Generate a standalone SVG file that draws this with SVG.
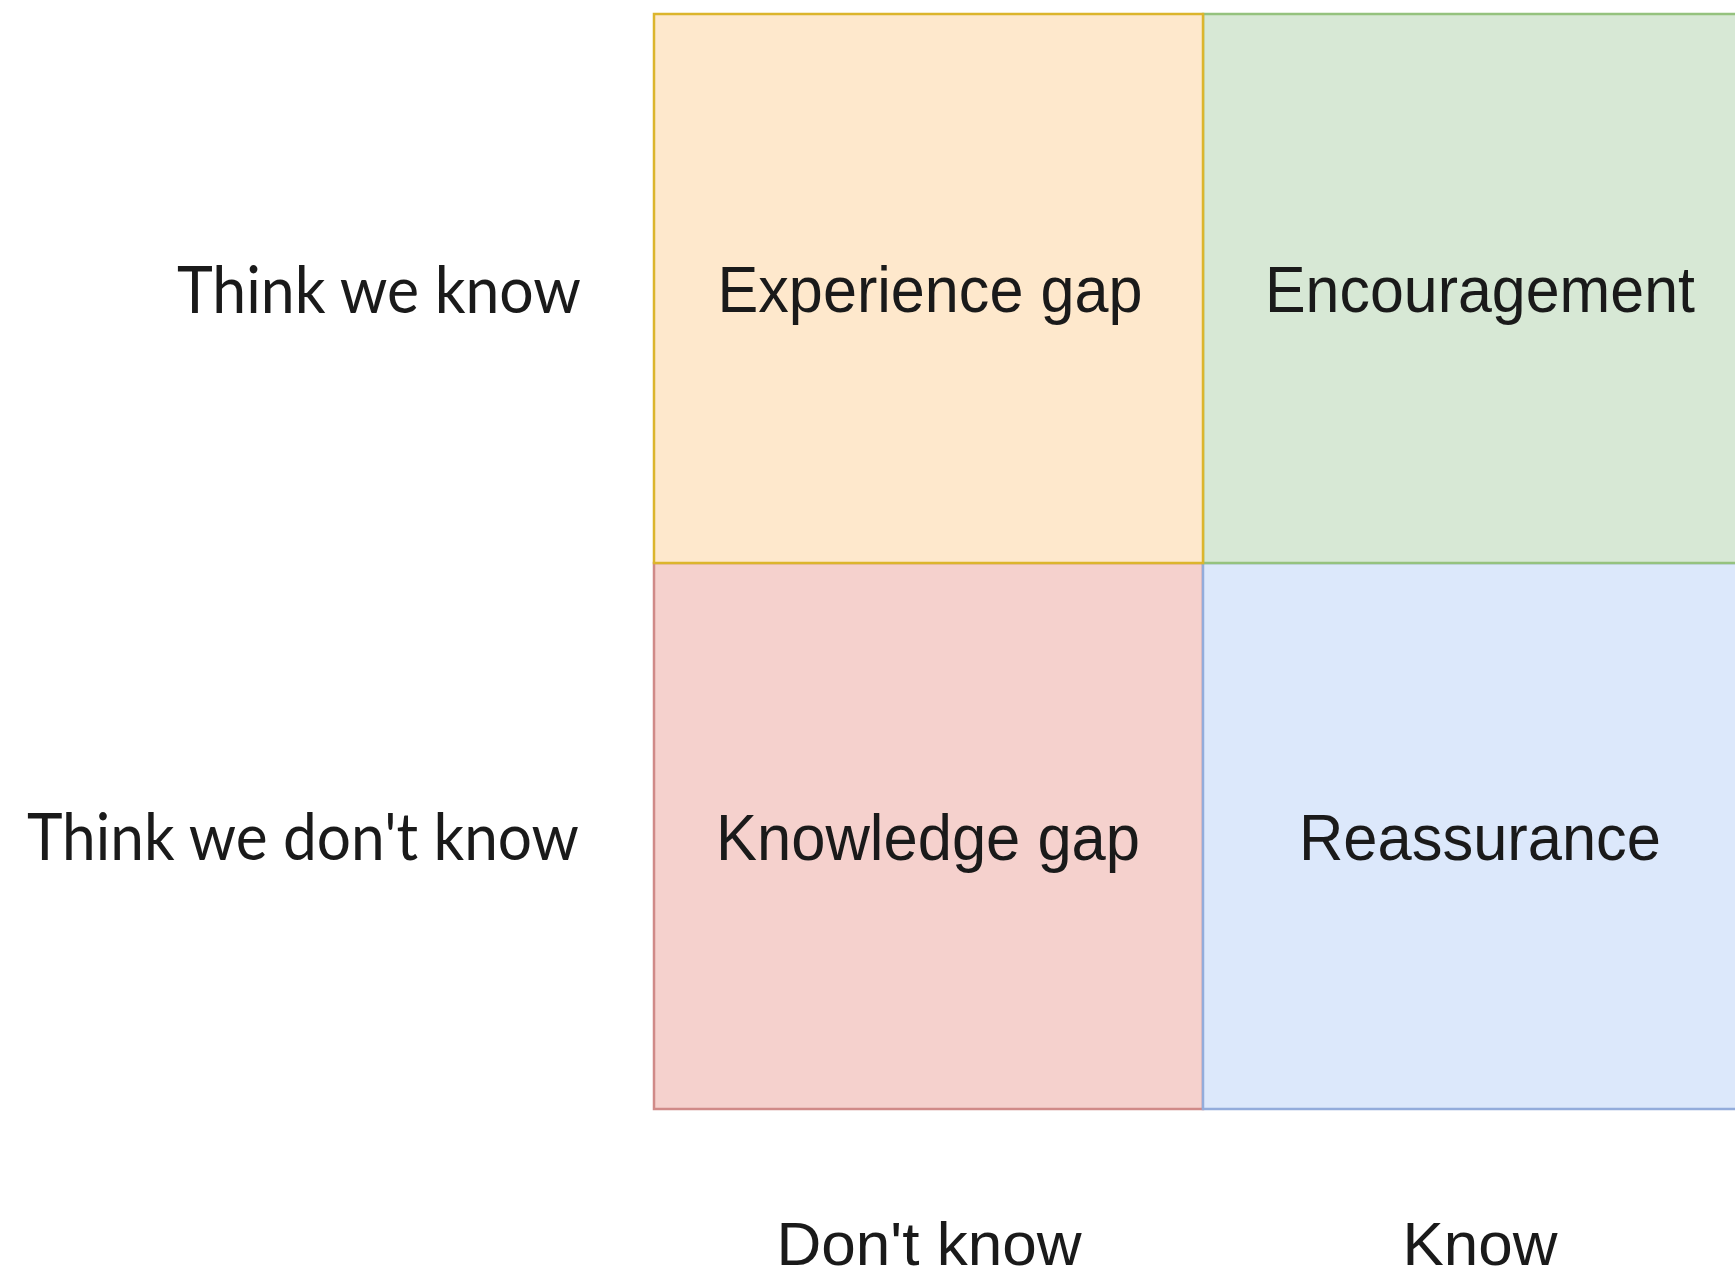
<svg xmlns="http://www.w3.org/2000/svg" width="1735" height="1277" viewBox="0 0 1735 1277">
  <style>
    .cell { stroke-width: 2.5; }
    .lbl { font-family: "Liberation Sans", Arial, sans-serif; font-size: 65px; fill: #1a1a1a; text-anchor: middle; }
    .axis { font-family: Lato, "Open Sans", sans-serif; font-size: 66px; fill: #1a1a1a; text-anchor: end; }
    .axisx { font-family: "Liberation Sans", Arial, sans-serif; font-size: 62px; fill: #1a1a1a; text-anchor: middle; }
  </style>
  <rect width="1735" height="1277" fill="#ffffff"/>

  <!-- quadrants, drawn so the shared borders overlap correctly -->
  <g id="knowledge-gap">
    <rect class="cell" x="654" y="563" width="549" height="546" fill="#f5d1cd" stroke="#d08a88"/>
    <text class="lbl" x="928" y="860" textLength="424" lengthAdjust="spacingAndGlyphs">Knowledge gap</text>
  </g>
  <g id="reassurance">
    <rect class="cell" x="1203" y="563" width="560" height="546" fill="#dce8fb" stroke="#93acdb"/>
    <text class="lbl" x="1480" y="860" textLength="362" lengthAdjust="spacingAndGlyphs">Reassurance</text>
  </g>
  <g id="encouragement">
    <rect class="cell" x="1203" y="14" width="560" height="549" fill="#d7e8d5" stroke="#95c27e"/>
    <text class="lbl" x="1480" y="312" textLength="430" lengthAdjust="spacingAndGlyphs">Encouragement</text>
  </g>
  <g id="experience-gap">
    <rect class="cell" x="654" y="14" width="549" height="549" fill="#fee8cc" stroke="#dcb52c"/>
    <text class="lbl" x="930" y="312" textLength="425" lengthAdjust="spacingAndGlyphs">Experience gap</text>
  </g>

  <!-- row labels -->
  <g id="row-think-know">
    <text class="axis" x="581" y="313" textLength="404" lengthAdjust="spacingAndGlyphs">Think we know</text>
  </g>
  <g id="row-think-dont-know">
    <text class="axis" x="579" y="860" textLength="552" lengthAdjust="spacingAndGlyphs">Think we don't know</text>
  </g>

  <!-- column labels -->
  <g id="col-dont-know">
    <text class="axisx" x="929" y="1265" textLength="305" lengthAdjust="spacingAndGlyphs">Don't know</text>
  </g>
  <g id="col-know">
    <text class="axisx" x="1480" y="1265" textLength="155" lengthAdjust="spacingAndGlyphs">Know</text>
  </g>

  <g id="connectors"></g>
</svg>
